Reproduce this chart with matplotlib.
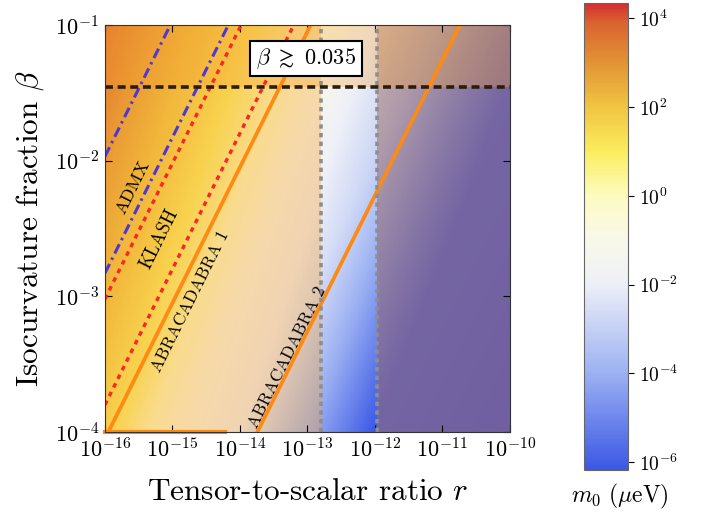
import numpy as np
import matplotlib
import matplotlib.pyplot as plt
from matplotlib.colors import LinearSegmentedColormap, LogNorm, Normalize
from matplotlib.ticker import LogLocator, NullLocator

plt.rcParams['font.family'] = 'serif'
plt.rcParams['font.serif'] = ['cmr10', 'DejaVu Serif']
plt.rcParams['mathtext.fontset'] = 'cm'
plt.rcParams['axes.formatter.use_mathtext'] = True
plt.rcParams['axes.unicode_minus'] = False

# axes ranges
r_lim = [1e-16, 1e-10]
beta_lim = [1e-4, 1e-1]
m0_lim = [6.6e-7, 2.2e4]

# background field: log10(m0) = g(u) + r_slope * (r_pivot - log10 r),
# with u = log10(beta) - log10(r); g at a few u
u_knots = [7.5, 8.0, 9.0, 10.0, 11.0, 12.0, 13.0, 14.0, 15.0, 16.0]
g_knots = [-6.6, -6.0, -4.3, -2.7, -1.8, -0.45, 0.45, 1.3, 2.4, 3.5]
r_slope = 0.45
r_pivot = -12.4

# allowed window in r and isocurvature bound
r_window = [1.59e-13, 1.08e-12]
beta_bound = 0.035

# experiment lines: log10(beta) - log10(r) = k
admx_k = [14.03, 13.17]
klash_k = [12.98, 12.20]
abra1_k = 11.95
abra2_k = 9.74
abra1_floor_r = 6e-15

# colormap for m0
cmap_stops = [(0.00, '#3b58e6'), (0.21, '#9db2f2'), (0.40, '#eef0f8'),
              (0.50, '#f9f9e8'), (0.59, '#fcfbbf'), (0.68, '#fbee5e'),
              (0.78, '#f0c441'), (0.87, '#e39535'), (0.96, '#da6330'),
              (1.00, '#d43030')]
m0_cmap = LinearSegmentedColormap.from_list('m0', cmap_stops)
purple_fade = LinearSegmentedColormap.from_list(
    'pf', [(0.0, (0.44, 0.37, 0.63, 0.92)), (1.0, (0.44, 0.37, 0.63, 0.25))])

r = np.logspace(-16, -10, 500)
beta = np.logspace(-4, -1, 400)
R, B = np.meshgrid(r, beta)
U = np.log10(B) - np.log10(R)
M0 = 10 ** (np.interp(U, u_knots, g_knots) + r_slope * (r_pivot - np.log10(R)))

fig = plt.figure(figsize=(7.09, 5.30), dpi=100)
ax = fig.add_axes([0.148, 0.185, 0.571, 0.768])
cax = fig.add_axes([0.824, 0.113, 0.062, 0.881])

mesh = ax.pcolormesh(R, B, M0, cmap=m0_cmap, norm=LogNorm(*m0_lim),
                     shading='auto', rasterized=True)

# orange veil outside the r window
ax.axvspan(r_lim[0], r_window[0], color='#f5a030', alpha=0.35, lw=0)
ax.axvspan(r_window[1], r_lim[1], color='#f5a030', alpha=0.35, lw=0)
# purple veil on the right
right = r >= r_window[1]
ax.pcolormesh(R[:, right], B[:, right], U[:, right], cmap=purple_fade,
              norm=Normalize(6, 11), shading='auto', rasterized=True)
# veil above isocurvature bound
ax.axhspan(beta_bound, beta_lim[1], color='#f5a030', alpha=0.3, lw=0)

# experiment lines
for k in admx_k:
    ax.plot(r, r * 10 ** k, color='#5236d2', lw=2.2,
            dashes=(3.4, 1.5, 0.8, 1.5))
for k in klash_k:
    ax.plot(r, r * 10 ** k, color='#ff2424', lw=2.4, dashes=(1.4, 1.5))
ax.plot(r, r * 10 ** abra1_k, color='#ff8a12', lw=2.7)
ax.plot(r, r * 10 ** abra2_k, color='#ff8a12', lw=2.7)
ax.plot([r_lim[0], abra1_floor_r], [beta_lim[0]] * 2, color='#ff8a12',
        lw=3.0, clip_on=False)

# window and bound
for rv in r_window:
    ax.axvline(rv, color='#8e8e8e', lw=2.6, dashes=(1.2, 1.2))
ax.axhline(beta_bound, color='#2b1c0c', lw=2.6, dashes=(2.2, 1.3))

ang = 63.6
ax.text(10 ** -15.58, 10 ** -2.2, 'ADMX', rotation=ang, fontsize=13,
        ha='center', va='center')
ax.text(10 ** -15.19, 10 ** -2.58, 'KLASH', rotation=ang, fontsize=13.5,
        ha='center', va='center')
ax.text(10 ** -14.73, 10 ** -3.04, 'ABRACADABRA 1', rotation=ang,
        fontsize=12.5, ha='center', va='center')
ax.text(10 ** -13.30, 10 ** -3.45, 'ABRACADABRA 2', rotation=ang,
        fontsize=12.5, ha='center', va='center')
ax.text(10 ** -13.02, 10 ** -1.247, r'$\beta\ \gtrsim\ 0.035$', fontsize=16,
        ha='center', va='center',
        bbox=dict(boxstyle='square,pad=0.25', fc='white', ec='black', lw=1.5))

ax.set_xscale('log')
ax.set_yscale('log')
ax.set_xlim(r_lim)
ax.set_ylim(beta_lim)
ax.xaxis.set_major_locator(LogLocator(base=10, numticks=10))
ax.xaxis.set_minor_locator(NullLocator())
ax.yaxis.set_minor_locator(NullLocator())
ax.tick_params(direction='in', top=True, right=True, length=5, width=0.8,
               labelsize=16, pad=4)
ax.set_xlabel(r'Tensor-to-scalar ratio $r$', fontsize=22.5, labelpad=12)
ax.set_ylabel(r'Isocurvature fraction $\beta$', fontsize=22.5, labelpad=6)
for s in ax.spines.values():
    s.set_color('#333333')

cb = fig.colorbar(mesh, cax=cax)
cb.set_ticks([1e-6, 1e-4, 1e-2, 1e0, 1e2, 1e4])
cb.ax.minorticks_off()
cb.ax.tick_params(labelsize=14, length=4, width=0.8)
cb.outline.set_edgecolor('#666666')
fig.text(0.874, 0.064, r'$m_0\ (\mu\mathrm{eV})$', fontsize=17,
         ha='center', va='center')

fig.savefig('out.png', dpi=100)
